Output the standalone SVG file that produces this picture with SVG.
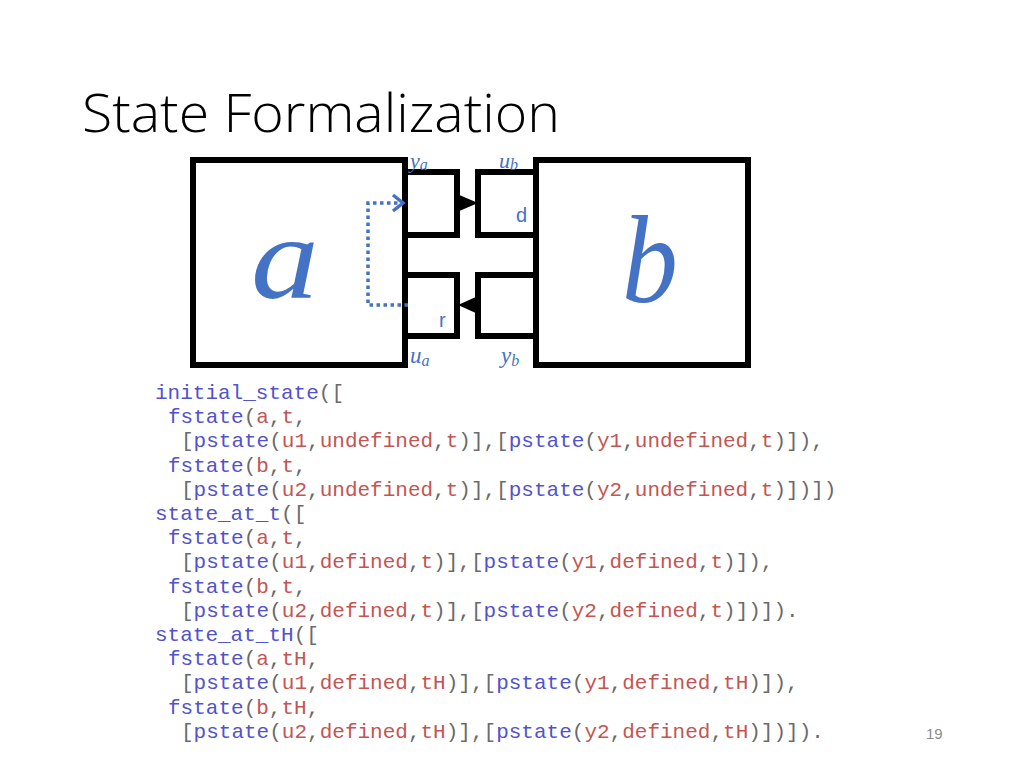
<svg xmlns="http://www.w3.org/2000/svg" width="1024" height="768" viewBox="0 0 1024 768">
<style>
.box{fill:none;stroke:#000;stroke-width:6}
.lbl{fill:#4472c4;font-family:"Liberation Serif",serif;font-style:italic}
.sans{fill:#4472c4;font-family:"Liberation Sans",Arial,sans-serif}
.code{font-family:"Liberation Mono","Courier New",monospace;font-size:21px;fill:#6a6a6a}
.k{fill:#5252cc}
.v{fill:#c35552}
.dot{fill:none;stroke:#4472c4;stroke-width:3.5;stroke-dasharray:3.5 3.5}
</style>
<rect width="1024" height="768" fill="#fff"/>
<text id="title" x="82" y="132" font-family="'Open Sans','Liberation Sans',sans-serif" font-weight="300" font-size="54" fill="#000" textLength="478" lengthAdjust="spacingAndGlyphs">State Formalization</text>

<g id="node-a">
<rect class="box" x="193" y="160" width="212" height="205"/>
<text class="lbl" transform="translate(285,298) scale(1.15,1)" font-size="118" text-anchor="middle">a</text>
</g>
<g id="node-b">
<rect class="box" x="536" y="160" width="212" height="205"/>
<text class="lbl" transform="translate(650,302) scale(0.9,1)" font-size="124" text-anchor="middle">b</text>
</g>
<g id="port-ya">
<rect class="box" x="405" y="172" width="52" height="63"/>
<text class="lbl" x="410" y="168" font-size="22">y<tspan font-size="16" dy="2">a</tspan></text>
</g>
<g id="port-ub">
<rect class="box" x="478" y="172" width="58" height="63"/>
<text class="lbl" x="499" y="168" font-size="22">u<tspan font-size="16" dy="2">b</tspan></text>
<text class="sans" x="516" y="222" font-size="20">d</text>
</g>
<g id="port-ua">
<rect class="box" x="405" y="275" width="52" height="61"/>
<text class="sans" x="439" y="327" font-size="20">r</text>
<text class="lbl" x="410" y="363" font-size="23">u<tspan font-size="16" dy="3">a</tspan></text>
</g>
<g id="port-yb">
<rect class="box" x="478" y="275" width="58" height="61"/>
<text class="lbl" x="501" y="363" font-size="23">y<tspan font-size="16" dy="3">b</tspan></text>
</g>

<g id="connectors">
<polygon points="457,194 478,203 457,212" fill="#000"/>
<polygon points="478,296 458,305 478,314" fill="#000"/>
<path class="dot" d="M408,305 H368 V203 H400"/>
<path d="M393,195 L403,203 L393,211" fill="none" stroke="#4472c4" stroke-width="3.5"/>
</g>

<g id="code" class="code">
<text x="155" y="399"><tspan class="k">initial_state</tspan>([</text>
<text x="168" y="423.2"><tspan class="k">fstate</tspan>(<tspan class="v">a</tspan>,<tspan class="v">t</tspan>,</text>
<text x="181" y="447.4">[<tspan class="k">pstate</tspan>(<tspan class="v">u1</tspan>,<tspan class="v">undefined</tspan>,<tspan class="v">t</tspan>)],[<tspan class="k">pstate</tspan>(<tspan class="v">y1</tspan>,<tspan class="v">undefined</tspan>,<tspan class="v">t</tspan>)]),</text>
<text x="168" y="471.6"><tspan class="k">fstate</tspan>(<tspan class="v">b</tspan>,<tspan class="v">t</tspan>,</text>
<text x="181" y="495.8">[<tspan class="k">pstate</tspan>(<tspan class="v">u2</tspan>,<tspan class="v">undefined</tspan>,<tspan class="v">t</tspan>)],[<tspan class="k">pstate</tspan>(<tspan class="v">y2</tspan>,<tspan class="v">undefined</tspan>,<tspan class="v">t</tspan>)])])</text>
<text x="155" y="520"><tspan class="k">state_at_t</tspan>([</text>
<text x="168" y="544.2"><tspan class="k">fstate</tspan>(<tspan class="v">a</tspan>,<tspan class="v">t</tspan>,</text>
<text x="181" y="568.4">[<tspan class="k">pstate</tspan>(<tspan class="v">u1</tspan>,<tspan class="v">defined</tspan>,<tspan class="v">t</tspan>)],[<tspan class="k">pstate</tspan>(<tspan class="v">y1</tspan>,<tspan class="v">defined</tspan>,<tspan class="v">t</tspan>)]),</text>
<text x="168" y="592.6"><tspan class="k">fstate</tspan>(<tspan class="v">b</tspan>,<tspan class="v">t</tspan>,</text>
<text x="181" y="616.8">[<tspan class="k">pstate</tspan>(<tspan class="v">u2</tspan>,<tspan class="v">defined</tspan>,<tspan class="v">t</tspan>)],[<tspan class="k">pstate</tspan>(<tspan class="v">y2</tspan>,<tspan class="v">defined</tspan>,<tspan class="v">t</tspan>)])]).</text>
<text x="155" y="641"><tspan class="k">state_at_tH</tspan>([</text>
<text x="168" y="665.2"><tspan class="k">fstate</tspan>(<tspan class="v">a</tspan>,<tspan class="v">tH</tspan>,</text>
<text x="181" y="689.4">[<tspan class="k">pstate</tspan>(<tspan class="v">u1</tspan>,<tspan class="v">defined</tspan>,<tspan class="v">tH</tspan>)],[<tspan class="k">pstate</tspan>(<tspan class="v">y1</tspan>,<tspan class="v">defined</tspan>,<tspan class="v">tH</tspan>)]),</text>
<text x="168" y="713.6"><tspan class="k">fstate</tspan>(<tspan class="v">b</tspan>,<tspan class="v">tH</tspan>,</text>
<text x="181" y="737.8">[<tspan class="k">pstate</tspan>(<tspan class="v">u2</tspan>,<tspan class="v">defined</tspan>,<tspan class="v">tH</tspan>)],[<tspan class="k">pstate</tspan>(<tspan class="v">y2</tspan>,<tspan class="v">defined</tspan>,<tspan class="v">tH</tspan>)])]).</text>
</g>
<text id="page" x="926" y="739" font-family="'Liberation Sans',sans-serif" font-size="15" fill="#8c8c8c">19</text>
</svg>
